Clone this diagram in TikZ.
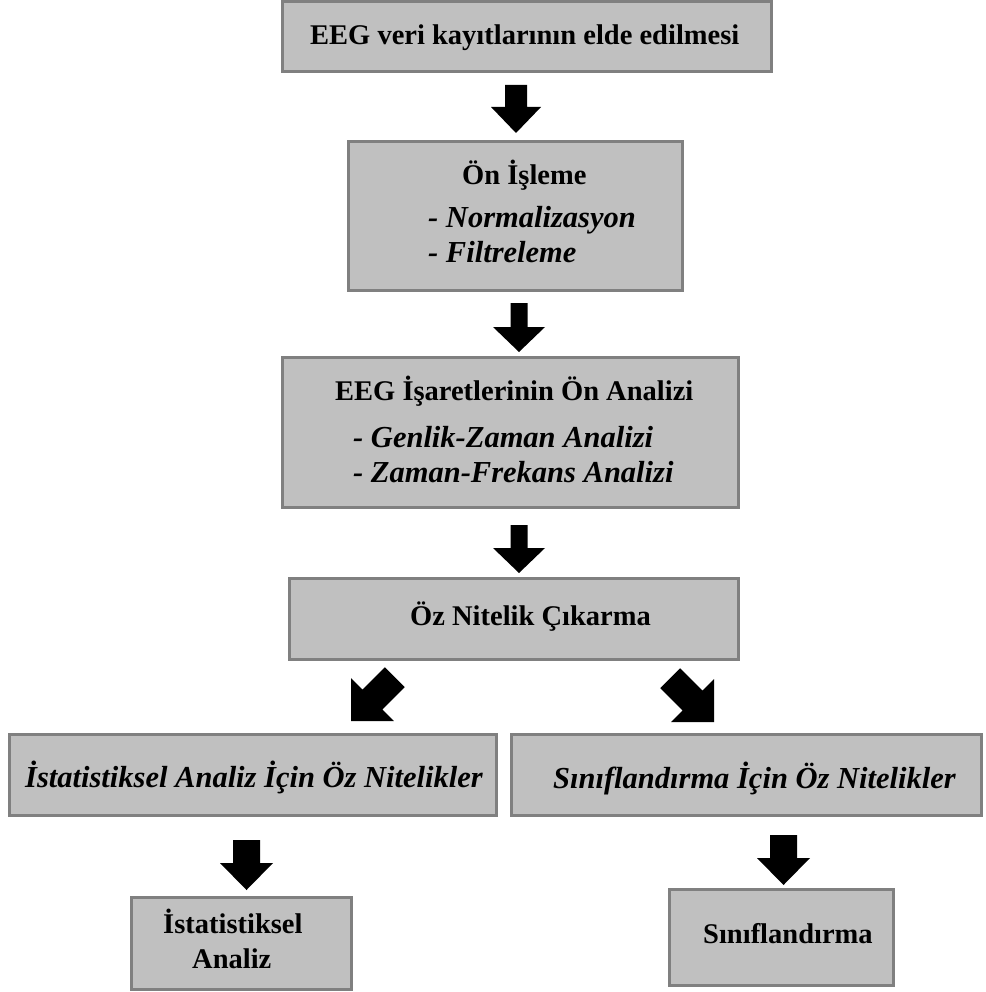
\documentclass[tikz,border=0pt]{standalone}
\usepackage{fontspec}
\setmainfont{Liberation Serif}
\definecolor{boxfill}{HTML}{C0C0C0}
\definecolor{boxline}{HTML}{808080}
\tikzset{
  box/.style={rectangle, draw=boxline, fill=boxfill, line width=3pt, inner sep=0pt},
  lbl/.style={anchor=base west, inner sep=0pt, font=\fontsize{28.5}{34}\selectfont\bfseries},
  ilbl/.style={anchor=base west, inner sep=0pt, font=\fontsize{30.5}{36}\selectfont\bfseries\itshape},
  % block arrow pointing down, tip at the origin:
  % #1 head half-width, #2 head length, #3 shaft half-width, #4 shaft length
  pics/blockarrow/.style n args={4}{code={
    \fill[black] (0,0) -- (-#1,-#2) -- (-#3,-#2) -- (-#3,{-(#2+#4)})
      -- (#3,{-(#2+#4)}) -- (#3,-#2) -- (#1,-#2) -- cycle;
  }}
}
\begin{document}
\begin{tikzpicture}[x=1pt, y=-1pt]
\useasboundingbox[fill=white] (0,0) rectangle (985,992);

% boxes
\node[box, minimum width=489pt, minimum height=70pt]  (b1) at (527,36.5)  {};
\node[box, minimum width=334pt, minimum height=149pt] (b2) at (515.5,216) {};
\node[box, minimum width=456pt, minimum height=150pt] (b3) at (510.5,432.5) {};
\node[box, minimum width=449pt, minimum height=81pt]  (b4) at (514,619)   {};
\node[box, minimum width=487pt, minimum height=81pt]  (b5) at (253,775)   {};
\node[box, minimum width=470pt, minimum height=81pt]  (b6) at (746.5,775) {};
\node[box, minimum width=220pt, minimum height=92pt]  (b7) at (241.5,943) {};
\node[box, minimum width=224pt, minimum height=96pt]  (b8) at (781.5,937.5) {};

% texts
\node[lbl]  (t1)  at (310,45)  {EEG veri kayıtlarının elde edilmesi};
\node[lbl]  (t2)  at (462,185) {Ön İşleme};
\node[ilbl] (t2a) at (428,228) {- Normalizasyon};
\node[ilbl] (t2b) at (428,262) {- Filtreleme};
\node[lbl]  (t3)  at (335,400) {EEG İşaretlerinin Ön Analizi};
\node[ilbl] (t3a) at (353,447) {- Genlik-Zaman Analizi};
\node[ilbl] (t3b) at (353,482) {- Zaman-Frekans Analizi};
\node[lbl]  (t4)  at (410,625) {Öz Nitelik Çıkarma};
\node[ilbl] (t5)  at (25,787)  {İstatistiksel Analiz İçin Öz Nitelikler};
\node[ilbl] (t6)  at (553,788) {Sınıflandırma İçin Öz Nitelikler};
\node[lbl]  (t7a) at (163,933) {İstatistiksel};
\node[lbl]  (t7b) at (192,968) {Analiz};
\node[lbl]  (t8)  at (703,943) {Sınıflandırma};

% block arrows between the stages
\pic at (516,133) {blockarrow={25}{26}{11}{22}};
\pic at (519,352) {blockarrow={26}{25}{8.5}{24}};
\pic at (519,573) {blockarrow={26}{25}{8.5}{23}};
\pic[rotate=-45] at (351,721) {blockarrow={30.4}{30.4}{14}{31.5}};
\pic[rotate=45]  at (714,722) {blockarrow={30.4}{30.4}{14}{31.5}};
\pic at (246.5,890) {blockarrow={26.5}{27}{13.5}{23}};
\pic at (783.5,885) {blockarrow={26.5}{27}{13.5}{23}};
\end{tikzpicture}
\end{document}
